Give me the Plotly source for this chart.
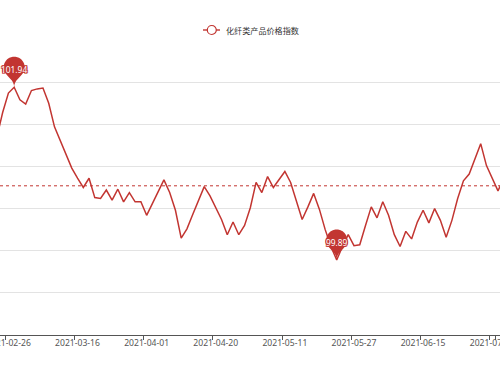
import math
import numpy as np
import plotly.graph_objects as go

# ---- data ----
dates = [
    "2021-02-24", "2021-02-25", "2021-02-26",
    "2021-03-01", "2021-03-02", "2021-03-03", "2021-03-04", "2021-03-05",
    "2021-03-08", "2021-03-09", "2021-03-10", "2021-03-11", "2021-03-12",
    "2021-03-15", "2021-03-16", "2021-03-17", "2021-03-18", "2021-03-19",
    "2021-03-22", "2021-03-23", "2021-03-24", "2021-03-25", "2021-03-26",
    "2021-03-29", "2021-03-30", "2021-03-31", "2021-04-01", "2021-04-02",
    "2021-04-06", "2021-04-07", "2021-04-08", "2021-04-09",
    "2021-04-12", "2021-04-13", "2021-04-14", "2021-04-15", "2021-04-16",
    "2021-04-19", "2021-04-20", "2021-04-21", "2021-04-22", "2021-04-23",
    "2021-04-26", "2021-04-27", "2021-04-28", "2021-04-29", "2021-04-30",
    "2021-05-06", "2021-05-07",
    "2021-05-10", "2021-05-11", "2021-05-12", "2021-05-13", "2021-05-14",
    "2021-05-17", "2021-05-18", "2021-05-19", "2021-05-20", "2021-05-21",
    "2021-05-24", "2021-05-25", "2021-05-26", "2021-05-27", "2021-05-28",
    "2021-05-31", "2021-06-01", "2021-06-02", "2021-06-03", "2021-06-04",
    "2021-06-07", "2021-06-08", "2021-06-09", "2021-06-10", "2021-06-11",
    "2021-06-15", "2021-06-16", "2021-06-17", "2021-06-18",
    "2021-06-21", "2021-06-22", "2021-06-23", "2021-06-24", "2021-06-25",
    "2021-06-28", "2021-06-29", "2021-06-30", "2021-07-01", "2021-07-02",
    "2021-07-05",
]
index_values = [
    101.35, 101.64, 101.87,
    101.94, 101.79, 101.74, 101.90, 101.92,
    101.93, 101.75, 101.47, 101.31, 101.15,
    100.98, 100.86, 100.75, 100.86, 100.63,
    100.62, 100.72, 100.60, 100.73, 100.58,
    100.69, 100.58, 100.58, 100.42, 100.56,
    100.70, 100.84, 100.69, 100.48,
    100.15, 100.26, 100.43, 100.59, 100.76,
    100.65, 100.51, 100.37, 100.19, 100.34,
    100.19, 100.30, 100.51, 100.81, 100.69,
    100.88, 100.75,
    100.85, 100.94, 100.81, 100.60, 100.37,
    100.52, 100.68, 100.49, 100.25, 100.05,
    99.89, 100.05, 100.19, 100.06, 100.07,
    100.30, 100.52, 100.39, 100.58, 100.42,
    100.19, 100.05, 100.23, 100.14, 100.34,
    100.48, 100.33, 100.50, 100.36,
    100.16, 100.36, 100.62, 100.83, 100.91,
    101.10, 101.27, 101.01, 100.86, 100.71,
    100.86,
]
tick_dates = ["2021-02-26", "2021-03-16", "2021-04-01", "2021-04-20",
              "2021-05-11", "2021-05-27", "2021-06-15", "2021-07-01"]
series_name = "化纤类产品价格指数"
average_value = 100.77   # dashed average line

RED = "#c23531"

fig = go.Figure()
fig.add_trace(go.Scatter(
    x=dates, y=index_values, mode="lines", name=series_name,
    line=dict(color=RED, width=1.5), showlegend=False, hoverinfo="x+y",
))

# average mark line
fig.add_shape(type="line", xref="paper", x0=0, x1=1, yref="y",
              y0=average_value, y1=average_value,
              line=dict(color=RED, width=1, dash="3px,3px"), layer="above")


# pin marker (ECharts style) as pixel-sized path anchored on a data point
def pin_path(S=35.0):
    w = S * 3 / 5
    h = S
    r = w / 2
    dy = r * r / (h - r)
    cy = h - r - dy
    a = math.asin(dy / r)
    dx = math.cos(a) * r
    tx, ty = math.sin(a), math.cos(a)
    cp1, cp2 = r * 0.6, r * 0.7
    pts = [(r * math.cos(t), cy + r * math.sin(t))
           for t in np.linspace(math.pi + a, -a, 48)]
    p = f"M {pts[0][0]:.2f},{pts[0][1]:.2f} "
    p += " ".join(f"L {x:.2f},{y:.2f}" for x, y in pts[1:])
    p += f" C {dx - tx * cp1:.2f},{cy - dy - ty * cp1:.2f} 0,{cp2:.2f} 0,0"
    p += f" C 0,{cp2:.2f} {-dx + tx * cp1:.2f},{cy - dy - ty * cp1:.2f} {-dx:.2f},{cy - dy:.2f} Z"
    return p, h


PIN, PIN_H = pin_path(35.0)
imax = int(np.argmax(index_values))
imin = int(np.argmin(index_values))
outline = ", ".join([f"{a}px {b}px 0 {RED}" for a, b in
                     ((1, 0), (-1, 0), (0, 1), (0, -1),
                      (1, 1), (-1, -1), (1, -1), (-1, 1))])
for i in (imax, imin):
    fig.add_shape(type="path", path=PIN,
                  xref="x", yref="y", xsizemode="pixel", ysizemode="pixel",
                  xanchor=dates[i], yanchor=index_values[i],
                  fillcolor=RED, line=dict(width=0), layer="above")
    fig.add_annotation(x=dates[i], y=index_values[i], xref="x", yref="y",
                       text=f"{index_values[i]:.2f}", showarrow=False,
                       yshift=PIN_H / 2, align="center",
                       xanchor="center", yanchor="middle",
                       font=dict(color="white", size=8.4, family="Noto Sans",
                                 shadow=outline))

# manual legend (line + open circle + text), top centre
H_PLOT_TOP, H_PLOT_BOT = 40, 335
def py(px):
    return (H_PLOT_BOT - px) / (H_PLOT_BOT - H_PLOT_TOP)

fig.add_shape(type="line", xref="paper", yref="paper",
              x0=203 / 500, x1=220 / 500, y0=py(30), y1=py(30),
              line=dict(color=RED, width=1.4))
fig.add_shape(type="circle", xref="paper", yref="paper",
              x0=207.3 / 500, x1=216.3 / 500, y0=py(34.5), y1=py(25.5),
              line=dict(color=RED, width=1.2), fillcolor="white")
fig.add_annotation(xref="paper", yref="paper", x=224 / 500, y=py(30),
                   xanchor="left", yanchor="middle", showarrow=False,
                   text=series_name,
                   font=dict(size=8.1, color="#333", family="Noto Sans CJK SC"))

fig.update_xaxes(
    type="category", range=[0.54, 87.35],
    tickmode="array", tickvals=tick_dates, ticktext=tick_dates,
    tickangle=0, automargin=False,
    tickson="boundaries", ticks="outside", ticklen=3.5, tickwidth=1,
    tickcolor="#555", showgrid=False, showline=True, linecolor="#555",
    linewidth=1, zeroline=False,
    tickfont=dict(size=8.6, color="#555", family="Noto Sans"),
)
fig.update_yaxes(
    range=[99, 102.5], dtick=0.5, tick0=99, showticklabels=False,
    showgrid=True, gridcolor="#e3e3e3", gridwidth=1, zeroline=False,
    showline=False, ticks="", automargin=False,
)
fig.update_layout(
    width=500, height=375,
    margin=dict(l=0, r=0, t=40, b=40, autoexpand=False),
    paper_bgcolor="white", plot_bgcolor="white",
    showlegend=False,
)
fig.write_html(
    "out.html",
    config={"displayModeBar": False},
    post_script="document.body.style.margin='0';document.body.style.padding='0';"
                "document.documentElement.style.overflow='hidden';",
)
